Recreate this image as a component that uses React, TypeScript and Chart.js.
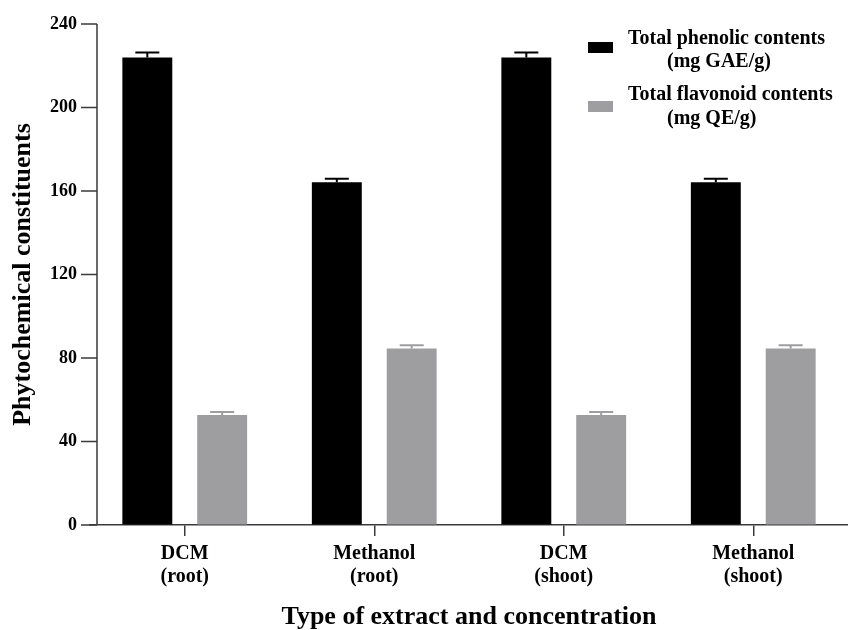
import React, { useEffect, useRef } from "react";
import { Chart, registerables } from "chart.js";

Chart.register(...registerables);

const categories: string[][] = [
  ["DCM", "(root)"],
  ["Methanol", "(root)"],
  ["DCM", "(shoot)"],
  ["Methanol", "(shoot)"],
];
const phenolicLabel = ["Total phenolic contents", "(mg GAE/g)"];
const flavonoidLabel = ["Total flavonoid contents", "(mg QE/g)"];
const phenolicValues = [224, 164.2, 224, 164.2];
const phenolicErrors = [2.4, 1.7, 2.4, 1.7];
const flavonoidValues = [52.7, 84.6, 52.7, 84.6];
const flavonoidErrors = [1.4, 1.5, 1.4, 1.5];
const yTicks = [0, 40, 80, 120, 160, 200, 240];

const BLACK = "#000000";
const GRAY = "#9e9ea0";
const AXIS = "#3a3a3a";
const FONT = "'Liberation Serif', 'Times New Roman', serif";
const Y_AXIS_X = 97;

const errorBarPlugin = {
  id: "errorBars",
  afterDatasetsDraw(chart: any) {
    const ctx = chart.ctx;
    const y = chart.scales.y;
    chart.data.datasets.forEach((ds: any, di: number) => {
      const meta = chart.getDatasetMeta(di);
      const errs: number[] = ds.errors || [];
      meta.data.forEach((bar: any, i: number) => {
        const v = ds.data[i];
        const e = errs[i] || 0;
        const yTop = y.getPixelForValue(v + e);
        const yBase = y.getPixelForValue(v);
        ctx.save();
        ctx.strokeStyle = ds.backgroundColor;
        ctx.lineWidth = 2;
        ctx.beginPath();
        ctx.moveTo(bar.x, yBase);
        ctx.lineTo(bar.x, yTop);
        ctx.moveTo(bar.x - 12, yTop);
        ctx.lineTo(bar.x + 12, yTop);
        ctx.stroke();
        ctx.restore();
      });
    });
  },
};

const yAxisPlugin = {
  id: "yAxisLine",
  afterDraw(chart: any) {
    const ctx = chart.ctx;
    const y = chart.scales.y;
    const area = chart.chartArea;
    ctx.save();
    ctx.strokeStyle = AXIS;
    ctx.lineWidth = 1.5;
    ctx.beginPath();
    ctx.moveTo(Y_AXIS_X, area.top);
    ctx.lineTo(Y_AXIS_X, area.bottom);
    yTicks.forEach((v) => {
      const py = y.getPixelForValue(v);
      ctx.moveTo(Y_AXIS_X - 16, py);
      ctx.lineTo(Y_AXIS_X, py);
    });
    ctx.stroke();
    ctx.restore();
  },
};

const legendPlugin = {
  id: "customLegend",
  afterDraw(chart: any) {
    const ctx = chart.ctx;
    const items = [
      { label: phenolicLabel, color: BLACK, swY: 42, y1: 44, y2: 67 },
      { label: flavonoidLabel, color: GRAY, swY: 101, y1: 100, y2: 124 },
    ];
    ctx.save();
    ctx.font = `bold 20px ${FONT}`;
    ctx.textBaseline = "alphabetic";
    ctx.textAlign = "left";
    items.forEach((it) => {
      ctx.fillStyle = it.color;
      ctx.fillRect(588, it.swY, 25, 11);
      ctx.fillStyle = "#000";
      ctx.fillText(it.label[0], 628, it.y1);
      ctx.fillText(it.label[1], 667, it.y2);
    });
    ctx.restore();
  },
};

export default function App() {
  const ref = useRef<HTMLCanvasElement | null>(null);
  useEffect(() => {
    if (!ref.current) return;
    const chart = new Chart(ref.current, {
      type: "bar",
      data: {
        labels: categories,
        datasets: [
          {
            label: phenolicLabel.join(" "),
            data: phenolicValues,
            errors: phenolicErrors,
            backgroundColor: BLACK,
            categoryPercentage: 0.79,
            barPercentage: 0.667,
          } as any,
          {
            label: flavonoidLabel.join(" "),
            data: flavonoidValues,
            errors: flavonoidErrors,
            backgroundColor: GRAY,
            categoryPercentage: 0.79,
            barPercentage: 0.667,
          } as any,
        ],
      },
      options: {
        responsive: false,
        animation: false,
        devicePixelRatio: 1,
        layout: { padding: { top: 24, right: 0, left: 0, bottom: 0 } },
        plugins: { legend: { display: false }, tooltip: { enabled: false } },
        scales: {
          x: {
            grid: {
              offset: false,
              drawOnChartArea: false,
              drawTicks: true,
              tickLength: 11,
              color: AXIS,
              lineWidth: 1.5,
            },
            border: { display: true, color: AXIS, width: 1.5 },
            ticks: {
              color: "#000",
              padding: 6,
              maxRotation: 0,
              font: { family: FONT, size: 20, weight: "bold", lineHeight: 1.15 },
            },
            title: {
              display: true,
              text: "Type of extract and concentration",
              color: "#000",
              padding: { top: 0, bottom: 0 },
              font: { family: FONT, size: 26, weight: "bold", lineHeight: 1.0 },
            },
            afterFit: (s: any) => {
              s.height = 105;
            },
          },
          y: {
            min: 0,
            max: 240,
            afterBuildTicks: (s: any) => {
              s.ticks = yTicks.map((v) => ({ value: v }));
            },
            grid: {
              drawOnChartArea: false,
              drawTicks: true,
              tickLength: 9,
              color: "rgba(0,0,0,0)",
            },
            border: { display: false },
            ticks: {
              color: "#000",
              padding: 4,
              font: { family: FONT, size: 18, weight: "bold" },
            },
            title: {
              display: true,
              text: "Phytochemical constituents",
              color: "#000",
              padding: { top: 8, bottom: 0 },
              font: { family: FONT, size: 26, weight: "bold", lineHeight: 1.2 },
            },
            afterFit: (s: any) => {
              s.width = 90;
            },
          },
        },
      } as any,
      plugins: [errorBarPlugin, yAxisPlugin, legendPlugin],
    });
    return () => chart.destroy();
  }, []);
  return (
    <div style={{ position: "absolute", left: 0, top: 0, width: 848, height: 630, background: "#fff" }}>
      <canvas ref={ref} width={848} height={630} style={{ width: 848, height: 630, display: "block" }} />
    </div>
  );
}
